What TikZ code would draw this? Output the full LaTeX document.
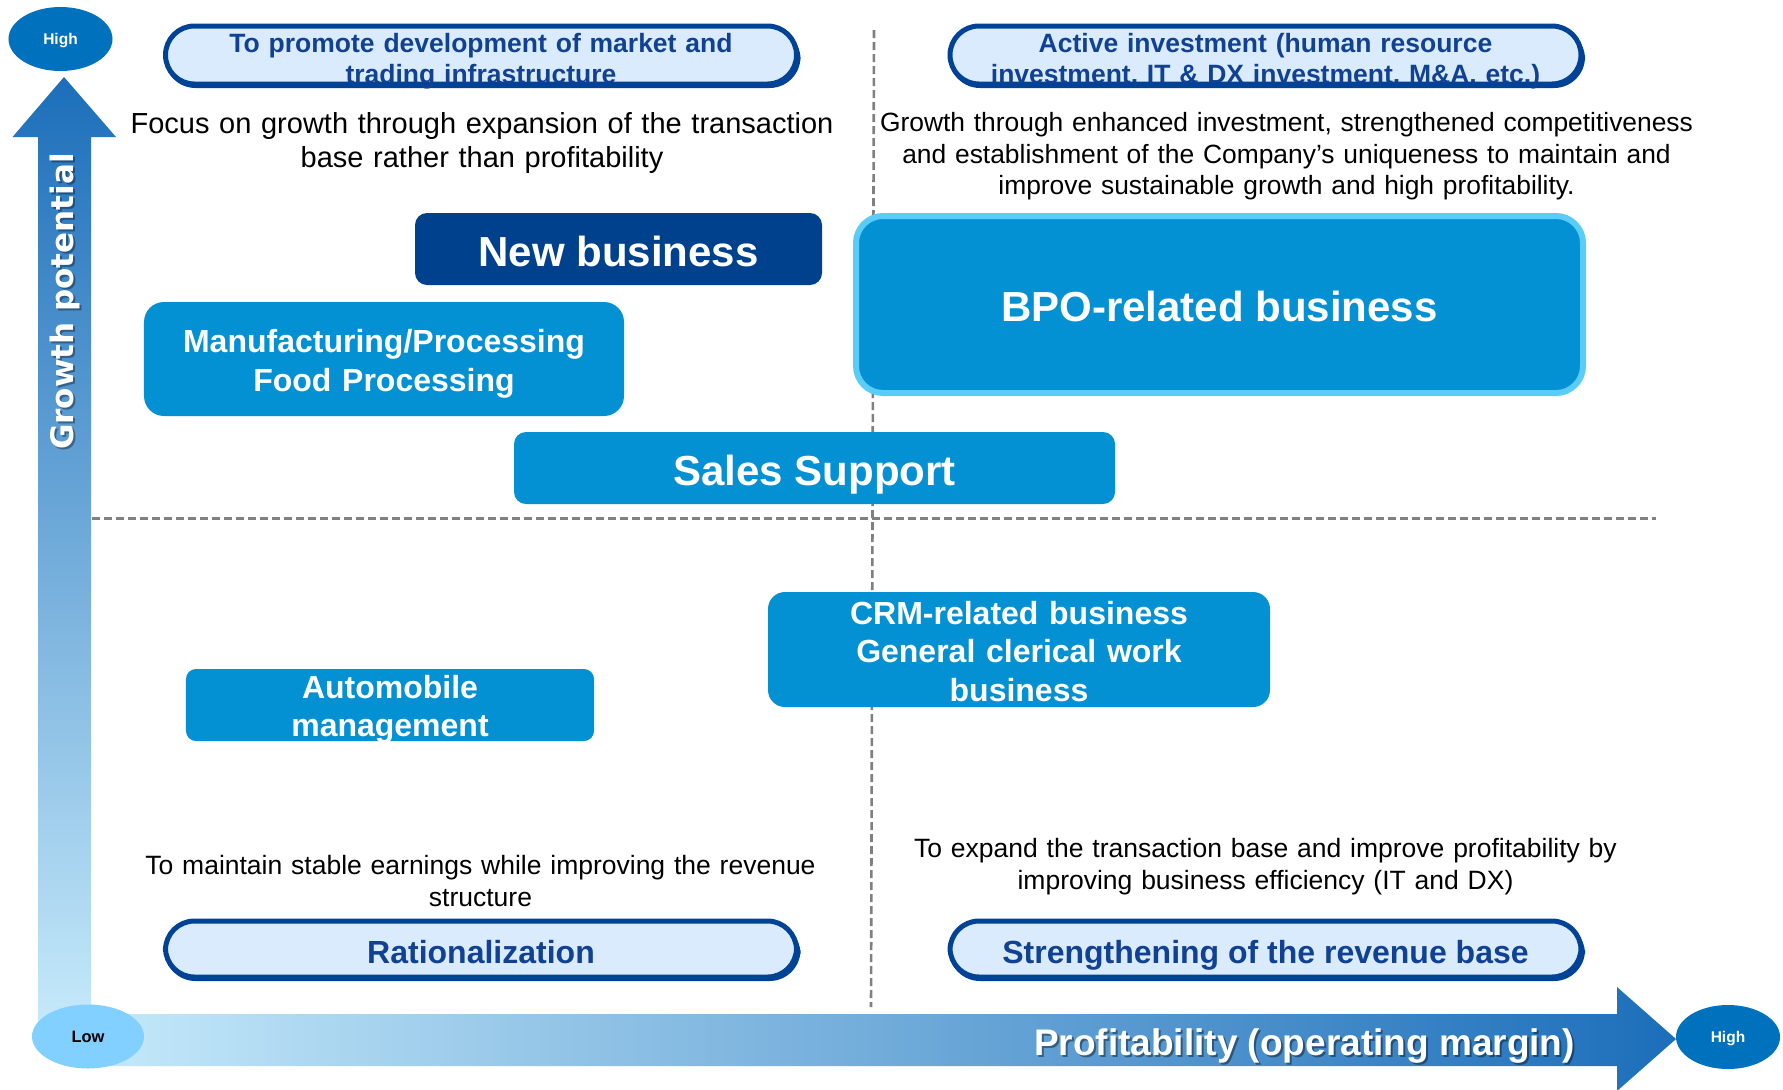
\documentclass[tikz,border=0pt]{standalone}
\usepackage{fontspec}
\setmainfont{Liberation Sans}
\newfontfamily\axisfont{DejaVu Sans}
\usetikzlibrary{shapes.geometric}

\definecolor{pilledge}{HTML}{004396}
\definecolor{pillfill}{HTML}{DAEBFD}
\definecolor{pilltext}{HTML}{114192}
\definecolor{boxblue}{HTML}{0391D3}
\definecolor{navybox}{HTML}{00418E}
\definecolor{bpoedge}{HTML}{59CDF8}
\definecolor{highblue}{HTML}{0071BC}
\definecolor{lowblue}{HTML}{82D0FF}
\definecolor{axisdark}{HTML}{1C6EBA}
\definecolor{axismid}{HTML}{78ABDD}
\definecolor{axislight}{HTML}{C8EBFB}
\definecolor{gridgray}{HTML}{808080}

\newcommand\fsz[2]{\fontsize{#1bp}{#2bp}\selectfont}

\begin{document}
\begin{tikzpicture}[x=1bp,y=-1bp,
  gridline/.style={draw=gridgray, line width=2.6bp, dash pattern=on 8bp off 4bp},
  pill/.style={draw=pilledge, line width=5bp, fill=pillfill, rounded corners=29bp,
    minimum width=631bp, inner sep=0pt},
  pillshadow/.style={fill=pilledge, rounded corners=31bp, minimum width=636bp, inner sep=0pt},
  pilllabel/.style={text=pilltext, font=\bfseries\fsz{26.5}{31}, anchor=base,
    text width=700bp, align=center, inner sep=0pt},
  pillbig/.style={text=pilltext, font=\bfseries\fsz{32}{38}, anchor=base, inner sep=0pt},
  bizbox/.style={fill=boxblue, rounded corners=14bp, inner sep=0pt},
  bizlabel/.style={text=white, font=\bfseries\fsz{32}{39}, anchor=base,
    text width=560bp, align=center, inner sep=0pt},
  biglabel/.style={text=white, font=\bfseries\fsz{42}{48}, anchor=base, inner sep=0pt},
  note/.style={text=black, anchor=base, text width=900bp, align=center, inner sep=0pt},
  endmark/.style={ellipse, minimum width=104bp, minimum height=64bp, inner sep=0pt},
  endlabel/.style={anchor=base, inner sep=0pt, font=\bfseries\fsz{15.5}{18}},
]
\useasboundingbox (0,0) rectangle (1783,1089);

% quadrant separators
\draw[gridline] (874,30) -- (871,1007);
\draw[gridline] (92,518.5) -- (1656,518.5);

% vertical axis arrow (growth potential)
\shade[top color=axisdark, middle color=axismid, bottom color=axislight]
  (38,1037) -- (38,137) -- (12.5,137) -- (64,77) -- (116,137) -- (91,137) -- (91,1037) -- cycle;
% horizontal axis arrow (profitability)
\shade[left color=axislight, middle color=axislight!60!axismid, right color=axisdark]
  (64,1014) -- (1617,1014) -- (1617,987) -- (1676,1039) -- (1617,1091) -- (1617,1066) -- (64,1066) -- cycle;

% axis titles with drop shadow
\node[rotate=90, anchor=base, inner sep=0pt, text=black, opacity=0.35,
  font=\axisfont\bfseries\fsz{31}{36}] (gpshadow) at (75.5,303.5) {Growth potential};
\node[rotate=90, anchor=base, inner sep=0pt, text=white,
  font=\axisfont\bfseries\fsz{31}{36}] (gp) at (73,301.5) {Growth potential};
\node[anchor=base, inner sep=0pt, text=black, opacity=0.4,
  font=\bfseries\fsz{37}{42}] (profshadow) at (1306.5,1057) {Profitability (operating margin)};
\node[anchor=base, inner sep=0pt, text=white,
  font=\bfseries\fsz{37}{42}] (prof) at (1304.5,1055) {Profitability (operating margin)};

% axis end marks
\node[endmark, fill=highblue] (yhigh) at (60.5,39) {};
\node[endlabel, text=white] (yhightext) at (60.5,44) {High};
\node[endmark, fill=lowblue, minimum width=112bp] (low) at (88,1036.5) {};
\node[endlabel, text=black, font=\bfseries\fsz{16.5}{19}] (lowtext) at (88,1042.5) {Low};
\node[endmark, fill=highblue] (xhigh) at (1728,1037) {};
\node[endlabel, text=white] (xhightext) at (1728,1042.5) {High};

% strategy pills
\node[pillshadow, minimum height=60bp] (tlshadow) at (482.5,58) {};
\node[pill, minimum height=58bp] (tlpill) at (481,55) {};
\node[pilllabel] (tltext) at (481,52) {To promote development of market and\\trading infrastructure};

\node[pillshadow, minimum height=60bp] (trshadow) at (1267,58) {};
\node[pill, minimum height=58bp] (trpill) at (1265.5,55) {};
\node[pilllabel] (trtext) at (1265.5,52) {Active investment (human resource\\investment, IT \& DX investment, M\&A, etc.)};

\node[pillshadow, minimum height=58bp] (blshadow) at (482.5,952) {};
\node[pill, minimum height=56bp] (blpill) at (481,949) {};
\node[pillbig] (bltext) at (481,963) {Rationalization};

\node[pillshadow, minimum height=58bp] (brshadow) at (1267,952) {};
\node[pill, minimum height=56bp] (brpill) at (1265.5,949) {};
\node[pillbig] (brtext) at (1265.5,963) {Strengthening of the revenue base};

% quadrant descriptions
\node[note, font=\fsz{29}{34}] (tlnote) at (482,133)
  {Focus on growth through expansion of the transaction\\base rather than profitability};
\node[note, font=\fsz{26.4}{31.5}] (trnote) at (1286.5,131.5)
  {Growth through enhanced investment, strengthened competitiveness\\and establishment of the Company’s uniqueness to maintain and\\improve sustainable growth and high profitability.};
\node[note, font=\fsz{26.5}{32}] (blnote) at (480.5,874.5)
  {To maintain stable earnings while improving the revenue\\structure};
\node[note, font=\fsz{26.5}{32}] (brnote) at (1265.5,857.5)
  {To expand the transaction base and improve profitability by\\improving business efficiency (IT and DX)};

% business boxes
\node[bizbox, fill=navybox, rounded corners=12bp, minimum width=407bp, minimum height=72bp] (newbiz) at (618.5,249) {};
\node[biglabel] (newbiztext) at (618.5,266) {New business};

\node[bizbox, draw=bpoedge, line width=6bp, rounded corners=27bp, minimum width=727bp, minimum height=177bp] (bpo) at (1219.5,304.5) {};
\node[biglabel] (bpotext) at (1219.5,321) {BPO-related business};

\node[bizbox, rounded corners=20bp, minimum width=480bp, minimum height=114bp] (manuf) at (384,359) {};
\node[bizlabel] (manuftext) at (384,352) {Manufacturing/Processing\\Food Processing};

\node[bizbox, rounded corners=12bp, minimum width=601bp, minimum height=72bp] (sales) at (814.5,468) {};
\node[biglabel] (salestext) at (814.5,485) {Sales Support};

\node[bizbox, rounded corners=17bp, minimum width=502bp, minimum height=115bp] (crm) at (1019,649.5) {};
\node[bizlabel, font=\bfseries\fsz{32}{38.5}] (crmtext) at (1019,624) {CRM-related business\\General clerical work\\business};

\node[bizbox, rounded corners=10bp, minimum width=408bp, minimum height=72bp] (auto) at (390,705) {};
\node[bizlabel, font=\bfseries\fsz{32}{38}] (autotext) at (390,698) {Automobile\\management};

\end{tikzpicture}
\end{document}
